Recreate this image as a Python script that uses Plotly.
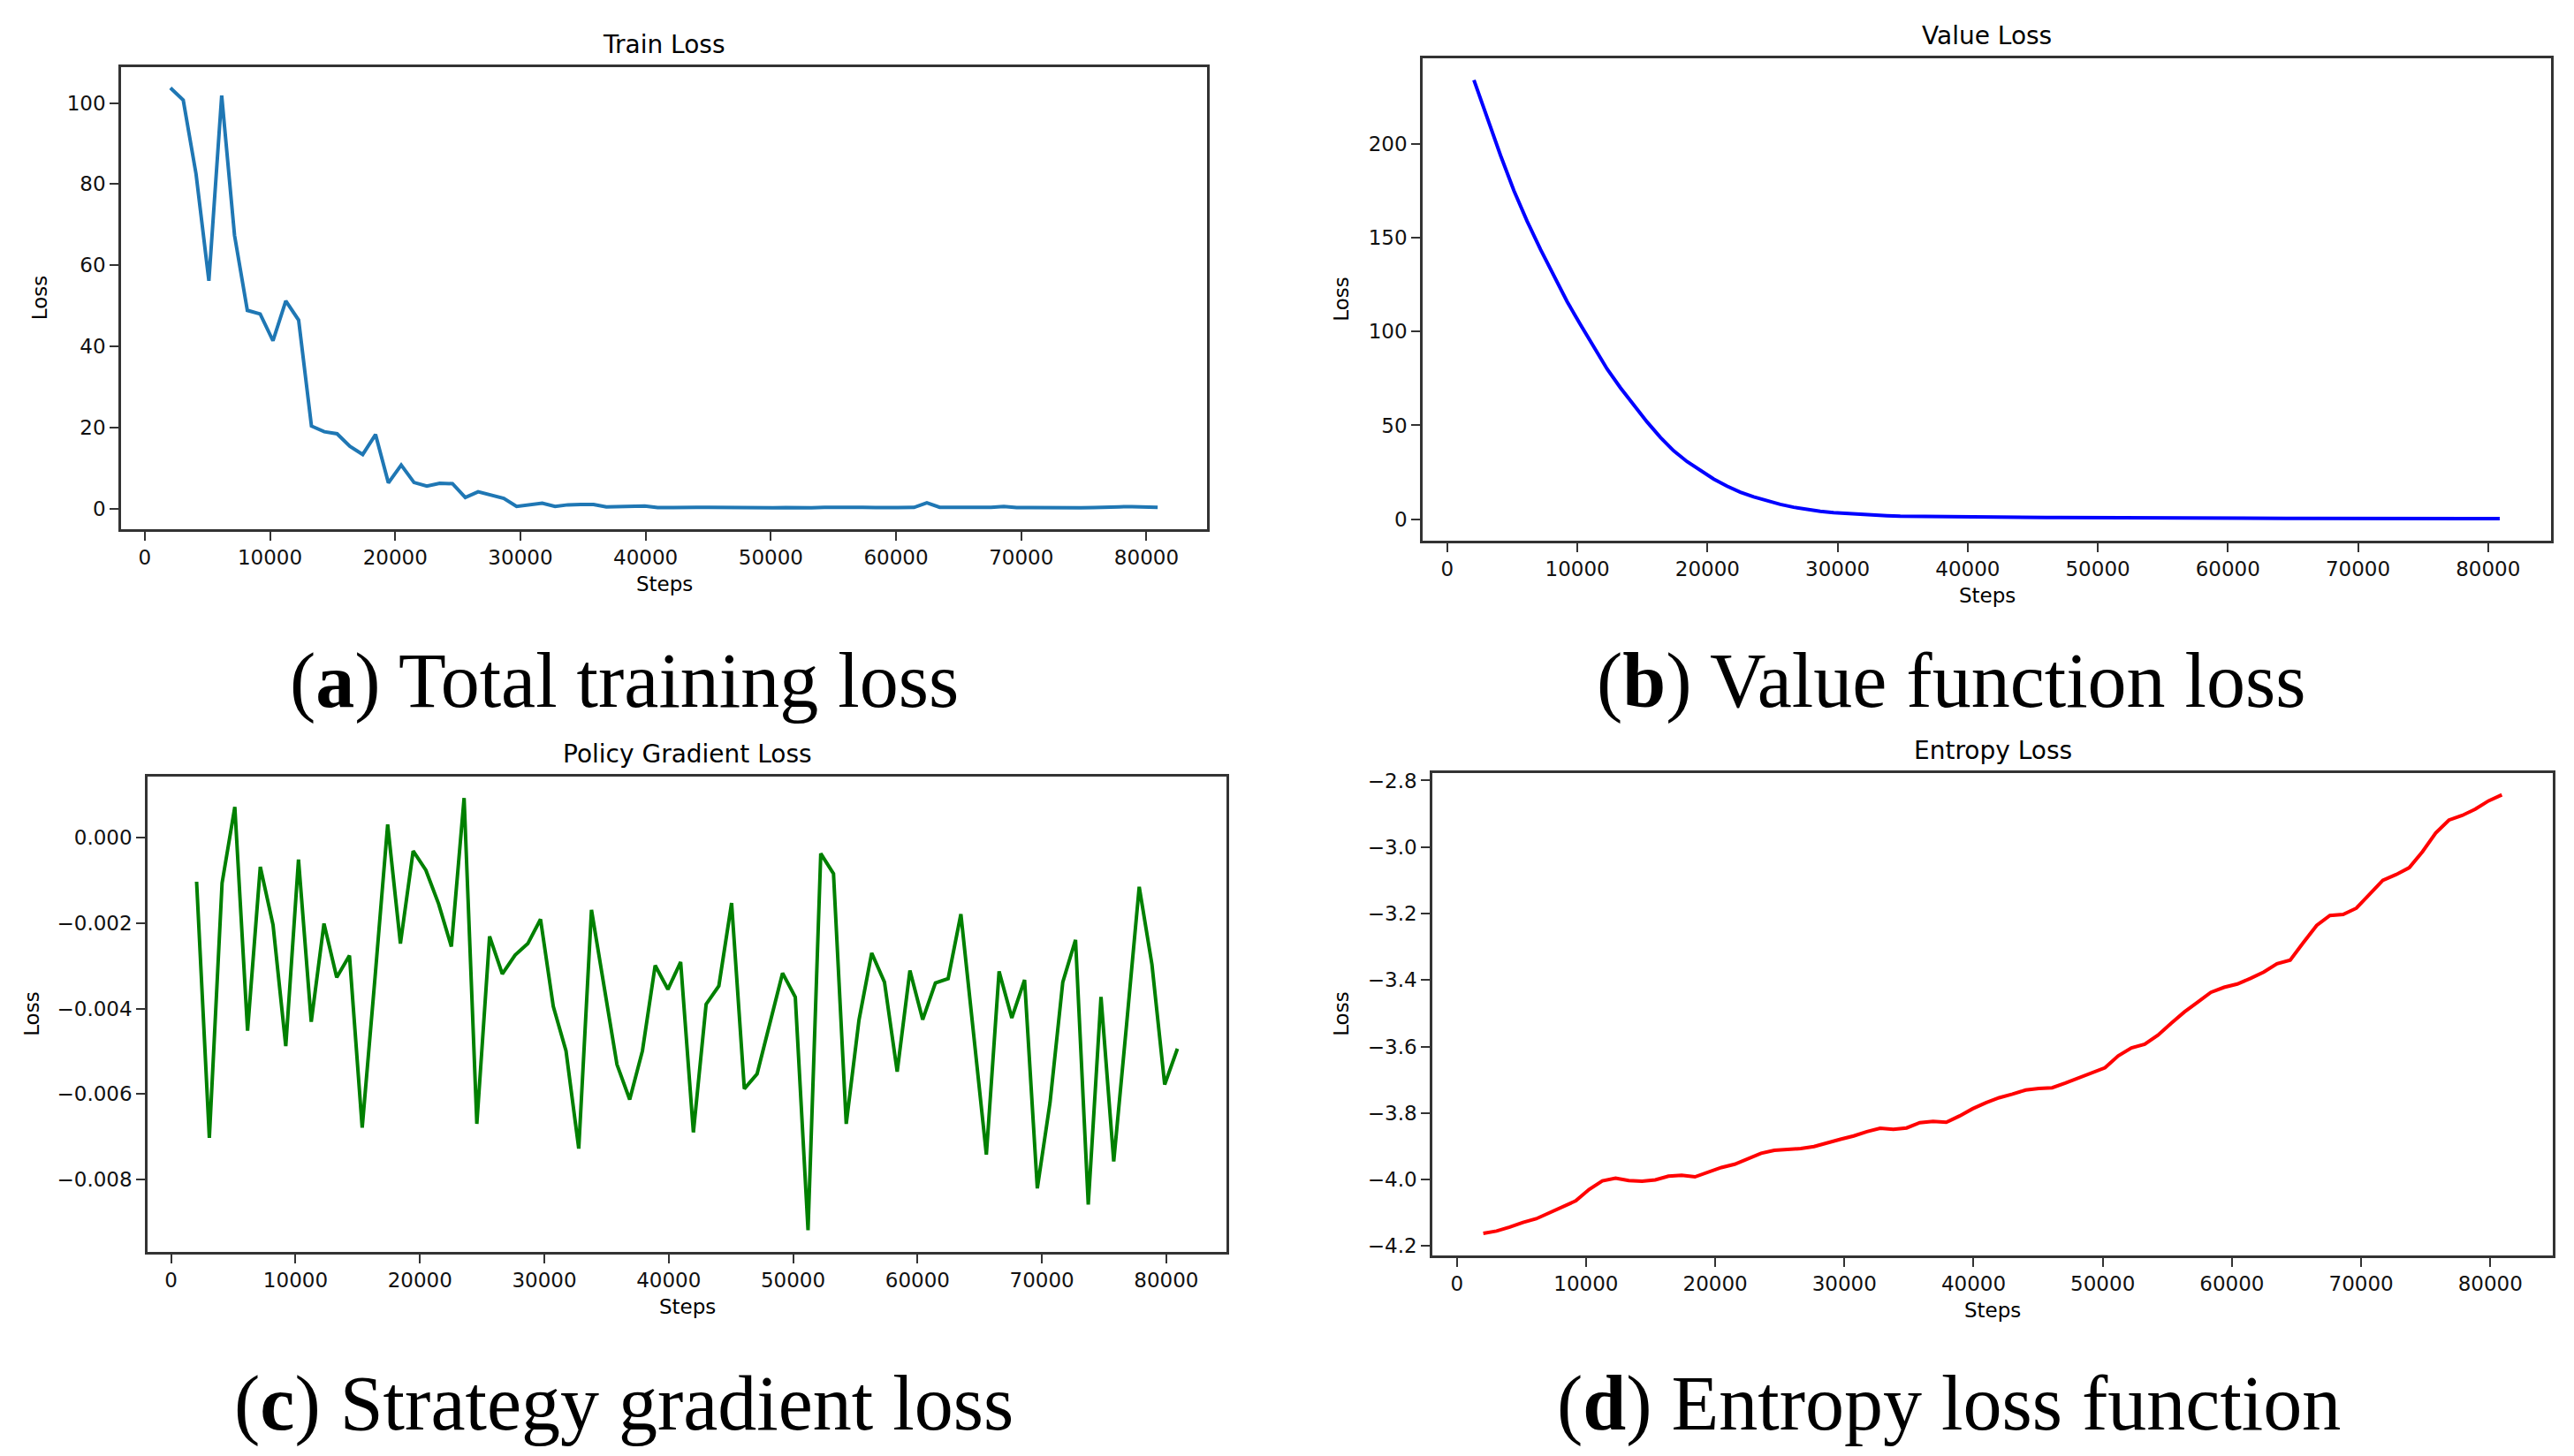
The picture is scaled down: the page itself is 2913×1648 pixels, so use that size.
import plotly.graph_objects as go
from plotly.subplots import make_subplots

# training steps (logged every 1024 steps)
steps = list(range(2048, 80897, 1024))

train_loss = [
    103.7, 100.7, 82.5, 56.2, 101.8, 67.4, 48.9, 48.0, 41.4, 51.2,
    46.5, 20.4, 19.0, 18.5, 15.4, 13.4, 18.3, 6.4, 10.8, 6.5,
    5.6, 6.3, 6.2, 2.8, 4.2, 3.4, 2.6, 0.6, 1.1, 1.4,
    0.6, 1.0, 1.1, 1.1, 0.5, 0.6, 0.5, 0.7, 0.3, 0.4,
    0.45, 0.4, 0.35, 0.3, 0.3, 0.35, 0.3, 0.25, 0.3, 0.2,
    0.25, 0.35, 0.4, 0.35, 0.4, 0.3, 0.35, 0.3, 0.35, 1.5,
    0.4, 0.4, 0.35, 0.45, 0.35, 0.6, 0.3, 0.3, 0.25, 0.3,
    0.3, 0.25, 0.3, 0.3, 0.5, 0.55, 0.45, 0.4,
]

value_loss = [
    234.0, 213.5, 193.8, 175.1, 158.7, 143.7, 129.3, 115.9, 103.6, 92.0,
    80.0, 70.0, 60.6, 51.8, 43.6, 36.4, 30.7, 25.8, 21.4, 17.6,
    14.4, 11.9, 9.7, 7.9, 6.4, 5.1, 4.2, 3.5, 3.0, 2.7,
    2.3, 1.9, 1.6, 1.5, 1.4, 1.35, 1.3, 1.25, 1.2, 1.15,
    1.1, 1.05, 1.0, 0.95, 0.95, 0.9, 0.85, 0.85, 0.8, 0.75,
    0.75, 0.7, 0.7, 0.65, 0.65, 0.6, 0.6, 0.6, 0.55, 0.55,
    0.55, 0.5, 0.5, 0.5, 0.5, 0.45, 0.45, 0.45, 0.45, 0.4,
    0.4, 0.4, 0.4, 0.4, 0.35, 0.35, 0.35, 0.35,
]

policy_loss = [
    -0.00103, -0.00703, -0.00106, 0.00072, -0.00452, -0.00068, -0.00204, -0.00488, -0.00051, -0.00431,
    -0.00201, -0.00327, -0.00276, -0.00679, -0.00330, 0.00031, -0.00248, -0.00031, -0.00076, -0.00155,
    -0.00255, 0.00093, -0.00670, -0.00231, -0.00319, -0.00275, -0.00248, -0.00191, -0.00395, -0.00499,
    -0.00728, -0.00169, -0.00350, -0.00531, -0.00613, -0.00499, -0.00299, -0.00355, -0.00291, -0.00690,
    -0.00390, -0.00347, -0.00153, -0.00588, -0.00553, -0.00439, -0.00317, -0.00373, -0.00919, -0.00037,
    -0.00084, -0.00670, -0.00427, -0.00270, -0.00338, -0.00548, -0.00311, -0.00426, -0.00340, -0.00330,
    -0.00179, -0.00460, -0.00742, -0.00313, -0.00422, -0.00333, -0.00821, -0.00620, -0.00338, -0.00239,
    -0.00859, -0.00373, -0.00758, -0.00440, -0.00115, -0.00297, -0.00578, -0.00494,
]

entropy_loss = [
    -4.162, -4.155, -4.143, -4.129, -4.118, -4.100, -4.080, -4.064, -4.030, -4.004,
    -3.996, -4.003, -4.005, -4.001, -3.990, -3.987, -3.992, -3.979, -3.964, -3.954,
    -3.938, -3.921, -3.912, -3.909, -3.907, -3.901, -3.889, -3.879, -3.869, -3.856,
    -3.846, -3.849, -3.845, -3.829, -3.825, -3.828, -3.809, -3.787, -3.769, -3.754,
    -3.743, -3.731, -3.726, -3.724, -3.710, -3.694, -3.680, -3.664, -3.628, -3.604,
    -3.593, -3.566, -3.530, -3.496, -3.467, -3.437, -3.422, -3.412, -3.395, -3.376,
    -3.351, -3.340, -3.287, -3.236, -3.206, -3.203, -3.184, -3.143, -3.100, -3.083,
    -3.062, -3.014, -2.958, -2.919, -2.905, -2.886, -2.861, -2.843,
]

titles = ["Train Loss", "Value Loss", "Policy Gradient Loss", "Entropy Loss"]
captions = ["(<b>a</b>) Total training loss", "(<b>b</b>) Value function loss",
            "(<b>c</b>) Strategy gradient loss", "(<b>d</b>) Entropy loss function"]
colors = ["#1f77b4", "blue", "green", "red"]
series = [train_loss, value_loss, policy_loss, entropy_loss]

W, H = 2913, 1648
# plot boxes in pixels: left, right, top, bottom
boxes = [(137, 1366, 72, 597), (1610, 2887, 62, 610),
         (167, 1388, 878, 1418), (1621, 2889, 874, 1422)]
ylab_off = [92, 92, 131, 103]
cap_y = [769, 769, 1590, 1590]
cap_x = [706, 2208, 706, 2205]

fig = make_subplots(rows=2, cols=2)

def pad(vals):
    lo, hi = min(vals), max(vals)
    m = (hi - lo) * 0.05
    return [lo - m, hi + m]

tickfont = dict(family="DejaVu Sans", size=23, color="#111")
ann = []

def label(text, px, py, size, family="DejaVu Sans", angle=0):
    ann.append(dict(text=text, x=px / W, y=1 - py / H, xref="paper", yref="paper",
                    xanchor="center", yanchor="middle", showarrow=False, textangle=angle,
                    font=dict(family=family, size=size, color="black")))

for i, (ys, c) in enumerate(zip(series, colors)):
    r, cc = i // 2 + 1, i % 2 + 1
    fig.add_trace(go.Scatter(x=steps, y=ys, mode="lines", line=dict(color=c, width=4),
                             showlegend=False), row=r, col=cc)
    l, rt, t, b = boxes[i]
    fig.update_xaxes(domain=[l / W, rt / W], range=pad(steps), tickvals=list(range(0, 80001, 10000)),
                     tickformat="d", showgrid=False, zeroline=False, showline=True, mirror=True,
                     linecolor="#333", linewidth=2.5, ticks="outside", ticklen=10, tickwidth=2,
                     tickcolor="#333", tickfont=tickfont, row=r, col=cc)
    fig.update_yaxes(domain=[1 - b / H, 1 - t / H], range=pad(ys),
                     showgrid=False, zeroline=False, showline=True, mirror=True, linecolor="#333",
                     linewidth=2.5, ticks="outside", ticklen=10, tickwidth=2, tickcolor="#333",
                     tickfont=tickfont, row=r, col=cc)
    cx = (l + rt) / 2
    label(titles[i], cx, t - 25, 28)
    label("Steps", cx, b + 62, 23)
    label("Loss", l - ylab_off[i], (t + b) / 2, 23, angle=-90)
    label(captions[i], cap_x[i], cap_y[i], 88, family="Liberation Serif")

fig.update_yaxes(dtick=20, row=1, col=1)
fig.update_yaxes(dtick=50, row=1, col=2)
fig.update_yaxes(dtick=0.002, tickformat=".3f", row=2, col=1)
fig.update_yaxes(dtick=0.2, tickformat=".1f", row=2, col=2)

fig.update_layout(width=W, height=H, margin=dict(l=0, r=0, t=0, b=0),
                  paper_bgcolor="white", plot_bgcolor="white", annotations=ann)

fig.write_html("out.html", config={"displayModeBar": False},
               post_script="document.body.style.margin='0';")
